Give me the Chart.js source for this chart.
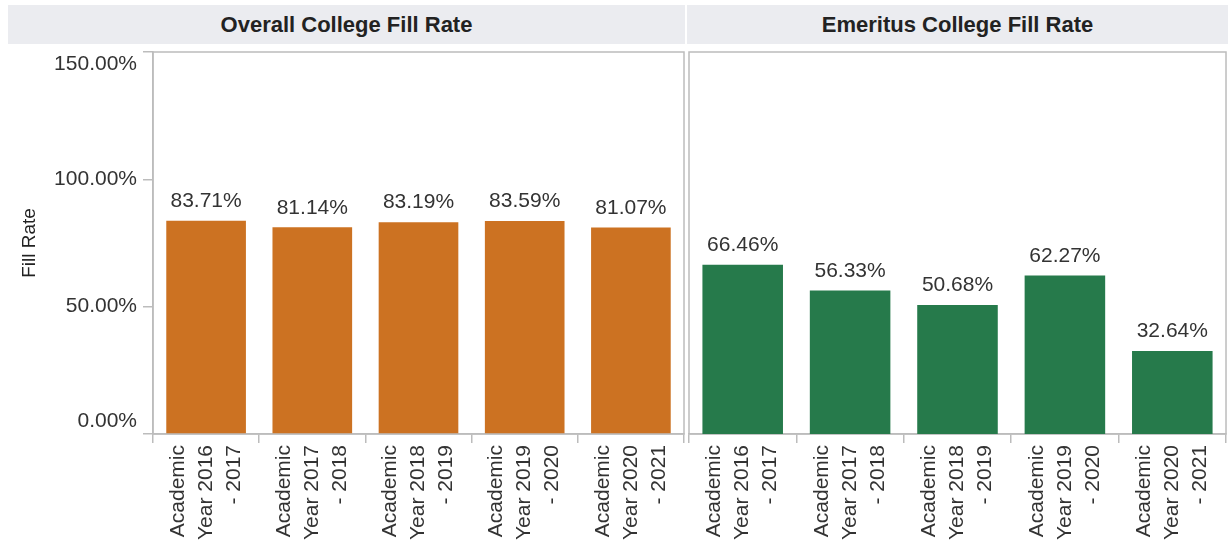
<!DOCTYPE html>
<html>
<head>
<meta charset="utf-8">
<script src="https://cdn.jsdelivr.net/npm/chart.js@4"></script>
<style>
  html, body { margin:0; padding:0; background:#fff; }
  body { width:1228px; height:554px; position:relative; overflow:hidden; font-family:"Liberation Sans", Arial, sans-serif; }
  .hdr { position:absolute; top:5px; height:39px; background:#ebecf0; color:#222; font-weight:bold; font-size:22px; line-height:39px; text-align:center; }
  .panel { position:absolute; top:44px; height:510px; }
</style>
</head>
<body>
<div class="hdr" style="left:8px; width:677px;">Overall College Fill Rate</div>
<div class="hdr" style="left:687px; width:541px;">Emeritus College Fill Rate</div>
<div class="panel" style="left:0; width:686px;"><canvas id="chart-overall"></canvas></div>
<div class="panel" style="left:686px; width:542px;"><canvas id="chart-emeritus"></canvas></div>
<script>
// data
const tickLabels = [
  ['Academic', 'Year 2016', '- 2017'],
  ['Academic', 'Year 2017', '- 2018'],
  ['Academic', 'Year 2018', '- 2019'],
  ['Academic', 'Year 2019', '- 2020'],
  ['Academic', 'Year 2020', '- 2021']
];
const overallRates = [83.71, 81.14, 83.19, 83.59, 81.07];
const emeritusRates = [66.46, 56.33, 50.68, 62.27, 32.64];
const yMin = 0, yMax = 150, yStep = 50;

const FONT = '"Liberation Sans", Arial, sans-serif';
const LINE = '#bcbcbc';
function q(id){ return document.getElementById(id); }
function pct(v){ return Number(v).toFixed(2) + '%'; }
function noPad(s){ s.paddingLeft = 0; s.paddingRight = 0; s.paddingTop = 0; s.paddingBottom = 0; }

// labels over each bar
const valueLabels = {
  id: 'valueLabels',
  afterDatasetsDraw(chart){
    const ctx = chart.ctx, ds = chart.data.datasets[0], meta = chart.getDatasetMeta(0);
    ctx.save();
    ctx.font = '21px ' + FONT; ctx.fillStyle = '#333'; ctx.textAlign = 'center'; ctx.textBaseline = 'bottom';
    meta.data.forEach((bar, i) => ctx.fillText(pct(ds.data[i]), bar.x, bar.y - 9));
    ctx.restore();
  }
};

// box round the plot area
const frame = {
  id: 'frame',
  beforeDatasetsDraw(chart){
    const a = chart.chartArea, ctx = chart.ctx;
    ctx.save(); ctx.strokeStyle = LINE; ctx.lineWidth = 1.5;
    ctx.strokeRect(a.left, a.top, a.right - a.left, a.bottom - a.top);
    ctx.restore();
  }
};

function makeChart(id, values, color, withAxis){
  return new Chart(q(id).getContext('2d'), {
    type: 'bar',
    data: { labels: tickLabels, datasets: [{ data: values, backgroundColor: color, barPercentage: 0.75, categoryPercentage: 1 }] },
    options: {
      responsive: true, maintainAspectRatio: false, animation: false,
      layout: { padding: { top: 8, right: 2, left: withAxis ? 0 : 3, bottom: 0 } },
      plugins: { legend: { display: false }, tooltip: { enabled: false } },
      scales: {
        x: {
          grid: { offset: true, drawOnChartArea: false, tickLength: 9, color: LINE, lineWidth: 1.5 },
          border: { color: LINE, width: 1.5 },
          ticks: { minRotation: 90, maxRotation: 90, autoSkip: false, padding: 2, labelOffset: -28, color: '#333', font: { family: FONT, size: 21, lineHeight: 1.33 } },
          afterFit(s){ s.height = 120; noPad(s); }
        },
        y: {
          display: withAxis,
          min: yMin, max: yMax,
          grid: { drawOnChartArea: false, tickLength: 10, color: LINE, lineWidth: 1.5 },
          border: { color: LINE, width: 1.5 },
          ticks: {
            stepSize: yStep, padding: 6, color: '#333', font: { family: FONT, size: 21 },
            callback: v => v === yMax ? ['', pct(v)] : v === yMin ? [pct(v), ''] : pct(v)
          },
          title: { display: true, text: 'Fill Rate', color: '#222', font: { family: FONT, size: 19 }, padding: { top: 18 } },
          afterFit(s){ s.width = withAxis ? 153 : 0; noPad(s); }
        }
      }
    },
    plugins: [frame, valueLabels]
  });
}

makeChart('chart-overall', overallRates, '#cc7222', true);
makeChart('chart-emeritus', emeritusRates, '#267a4b', false);
</script>
</body>
</html>
